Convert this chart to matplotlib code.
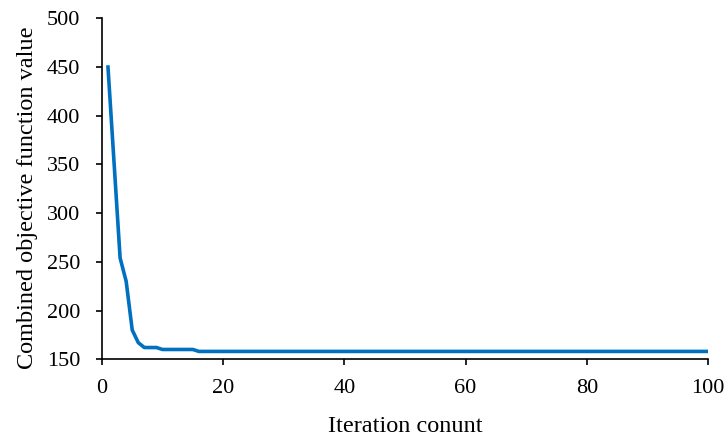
import matplotlib
matplotlib.use("Agg")
import matplotlib.pyplot as plt

iterations = list(range(1, 101))
values_head = [450, 352, 254, 230, 180, 167, 162, 162, 162, 160, 160, 160, 160, 160, 160]
values = values_head + [158] * (100 - len(values_head))

x_ticks = [0, 20, 40, 60, 80, 100]
y_ticks = [150, 200, 250, 300, 350, 400, 450, 500]

plt.rcParams['font.family'] = ['Liberation Serif', 'DejaVu Serif']

fig = plt.figure(figsize=(7.28, 4.37), dpi=100)
ax = fig.add_axes([0.140, 0.178, 0.8325, 0.78])
ax.plot(iterations, values, color='#0070C0', linewidth=2.6, solid_joinstyle='round')

ax.set_xlim(0, 100)
ax.set_ylim(150, 500)
ax.set_xticks(x_ticks)
ax.set_yticks(y_ticks)
ax.tick_params(axis='both', labelsize=16, direction='out', length=4.5, width=1.2, color='black')
ax.tick_params(axis='x', pad=10)
ax.tick_params(axis='y', pad=11)
for s in ['top', 'right']:
    ax.spines[s].set_visible(False)
for s in ['left', 'bottom']:
    ax.spines[s].set_linewidth(1.2)
ax.set_xlabel('Iteration conunt', fontsize=17.5, labelpad=13)
ax.set_ylabel('Combined objective function value', fontsize=17.5)
ax.yaxis.set_label_coords(-0.106, 0.474)

fig.savefig('out.png', dpi=100)
